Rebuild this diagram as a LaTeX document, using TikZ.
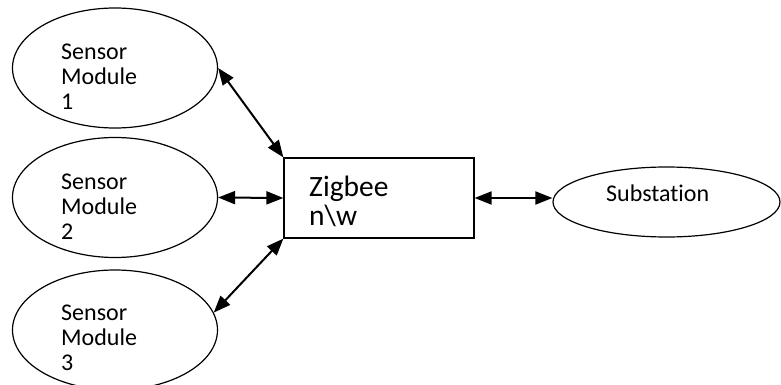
\documentclass[tikz,border=0pt]{standalone}
\usepackage{fontspec}
\setmainfont[Ligatures=NoCommon]{Carlito}
\usetikzlibrary{shapes.geometric,arrows.meta}
\begin{document}
\begin{tikzpicture}[x=1pt,y=-1pt,
  blob/.style={draw,ellipse,line width=1.2pt,inner sep=0pt,minimum width=205pt,minimum height=120pt},
  lbl/.style={inner sep=0pt,align=left,anchor=north west,font=\fontsize{24}{25}\selectfont},
  link/.style={line width=2pt,{Triangle[length=17pt,width=13pt]}-{Triangle[length=17pt,width=13pt]}}]
\useasboundingbox (0,0) rectangle (781,385);
\node[blob] (e1) at (115,68) {};
\node[blob] (e2) at (115,197.5) {};
\node[blob] (e3) at (115,330) {};
\node[lbl] (t1) at (61,44) {Sensor\\Module\\1};
\node[lbl] (t2) at (61,174) {Sensor\\Module\\2};
\node[lbl] (t3) at (61,305) {Sensor\\Module\\3};
\node[draw,line width=1.2pt,minimum width=190pt,minimum height=80pt,inner sep=0pt] (zb) at (379,198) {};
\node[inner sep=0pt,align=left,anchor=north west,font=\fontsize{29.5}{28.7}\selectfont] (zt) at (309,176) {Zigbee\\n\textbackslash w};
\node[blob,minimum width=227pt,minimum height=70pt] (sub) at (666.5,202) {};
\node[inner sep=0pt,anchor=base west,font=\fontsize{24}{25}\selectfont] (st) at (606,201) {Substation};
\draw[link] (e1.east) -- (zb.north west);
\draw[link] (e2.east) -- (zb.west);
\draw[link] (e3.10) -- (zb.south west);
\draw[link] (zb.east) -- (sub.west |- zb.east);
\end{tikzpicture}
\end{document}
